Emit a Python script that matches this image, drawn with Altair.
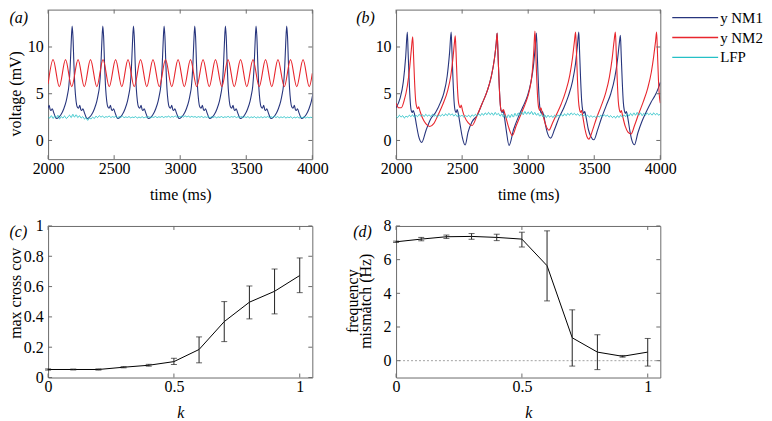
import altair as alt
import pandas as pd

FONT = "Liberation Serif"
C_NM1 = "#27357d"
C_NM2 = "#e8262d"
C_LFP = "#25c0c6"
FRAME = "#6b6b6b"
SERIES = ["y NM1", "y NM2", "LFP"]
COLORS = [C_NM1, C_NM2, C_LFP]

# ---------------- panel (a) ----------------
a_nm1_peaks = [1950, 2182, 2414, 2646, 2878, 3110, 3342, 3574, 3806, 4038]
a_nm1_shape_dt = [-100, -85, -63, -45, -35, -25, -15, -7, 0, 6, 14, 22, 30, 38,
                  48, 58, 66, 72, 82, 92, 104, 114]
a_nm1_shape_v = [2.5, 2.75, 3.4, 4.2, 4.9, 5.8, 7.8, 10.5, 12.25, 11.2, 8.0, 5.5,
                 4.2, 3.6, 3.45, 3.75, 3.3, 3.2, 3.4, 3.0, 2.55, 2.35]

a_nm2_t = [2000, 2038, 2085, 2132, 2179, 2227, 2274, 2321, 2369, 2416, 2463, 2511,
           2558, 2605, 2652, 2700, 2747, 2794, 2842, 2889, 2936, 2984, 3031, 3078,
           3125, 3173, 3220, 3267, 3315, 3362, 3409, 3457, 3504, 3551, 3598, 3646,
           3693, 3740, 3788, 3835, 3882, 3930, 3977, 4000]
a_nm2_v = [6.05, 8.65, 5.75, 8.65, 5.75, 8.65, 5.75, 8.65, 5.75, 8.65, 5.75, 8.65,
           5.75, 8.65, 5.75, 8.65, 5.75, 8.65, 5.75, 8.65, 5.75, 8.65, 5.75, 8.65,
           5.75, 8.65, 5.75, 8.65, 5.75, 8.65, 5.75, 8.65, 5.75, 8.65, 5.75, 8.65,
           5.75, 8.65, 5.75, 8.65, 5.75, 8.65, 5.75, 7.17]

lfp_dt = 12.5
a_lfp_v = [2.55, 2.4, 2.65, 2.35, 2.6, 2.45, 2.7, 2.3, 2.55, 2.4, 2.62, 2.35, 2.5, 2.7, 2.45, 2.8, 2.5, 2.75, 2.45, 2.65,
           2.4, 2.55, 2.3, 2.45, 2.15, 2.4, 2.3, 2.5, 2.35, 2.6, 2.45, 2.65, 2.5, 2.6, 2.45, 2.55, 2.5, 2.62, 2.45, 2.55,
           2.48, 2.58, 2.42, 2.55, 2.47, 2.6, 2.44, 2.52, 2.46, 2.56, 2.42, 2.5, 2.45, 2.55, 2.4, 2.5, 2.44, 2.54, 2.42, 2.5,
           2.45, 2.55, 2.43, 2.52, 2.47, 2.57, 2.44, 2.53, 2.48, 2.58, 2.45, 2.55, 2.5, 2.6, 2.47, 2.57, 2.5, 2.62, 2.48, 2.58,
           2.52, 2.6, 2.5, 2.63, 2.52, 2.6, 2.48, 2.58, 2.5, 2.56, 2.46, 2.55, 2.48, 2.57, 2.45, 2.54, 2.47, 2.56, 2.44, 2.53,
           2.46, 2.55, 2.43, 2.52, 2.47, 2.56, 2.44, 2.53, 2.48, 2.58, 2.46, 2.55, 2.49, 2.57, 2.45, 2.54, 2.47, 2.56, 2.44, 2.53,
           2.46, 2.55, 2.42, 2.52, 2.45, 2.55, 2.4, 2.52, 2.44, 2.54, 2.43, 2.53, 2.46, 2.56, 2.44, 2.54, 2.47, 2.57, 2.45, 2.55,
           2.42, 2.52, 2.45, 2.55, 2.4, 2.5, 2.44, 2.54, 2.38, 2.5, 2.42, 2.52, 2.4, 2.5, 2.44, 2.52, 2.4, 2.5, 2.42, 2.48, 2.44]

# ---------------- panel (b) ----------------
b_nm1_t = [2000, 2030, 2055, 2073, 2085, 2091, 2099, 2107, 2115, 2123, 2130, 2140, 2155, 2170, 2194,
           2227, 2262, 2299, 2337, 2362, 2387, 2405, 2417, 2423, 2431, 2439, 2447, 2455, 2462, 2472,
           2487, 2502, 2523, 2545, 2575, 2614, 2650, 2690, 2720, 2745, 2758, 2765, 2771, 2779, 2787,
           2795, 2803, 2810, 2820, 2835, 2855, 2890, 2925, 2960, 2995, 3020, 3040, 3053, 3062, 3068,
           3076, 3084, 3092, 3100, 3107, 3117, 3132, 3148, 3170, 3200, 3235, 3270, 3305, 3335, 3358,
           3373, 3383, 3389, 3397, 3405, 3413, 3421, 3428, 3438, 3455, 3475, 3497, 3525, 3555, 3590,
           3625, 3655, 3675, 3689, 3698, 3704, 3712, 3720, 3728, 3736, 3743, 3753, 3770, 3785, 3804,
           3830, 3860, 3895, 3930, 3960, 3985, 4000]
b_nm1_v = [3.5, 4.5, 6.3, 9.0, 11.6, 9.5, 6.5, 4.2, 3.2, 3.0, 3.2, 2.8, 1.6, 0.5, -0.2,
           1.1, 2.3, 3.0, 4.1, 5.1, 6.9, 9.4, 11.6, 9.5, 6.5, 4.2, 3.2, 3.0, 3.3, 2.8,
           1.5, 0.3, -0.48, 0.9, 2.0, 2.7, 3.9, 5.3, 6.8, 8.8, 10.4, 11.5, 9.5, 6.5, 4.2,
           3.2, 3.0, 3.2, 2.5, 1.0, -0.53, 1.2, 2.5, 3.6, 4.8, 6.2, 8.0, 10.0, 11.5, 9.5,
           6.5, 4.2, 3.2, 2.9, 3.1, 2.7, 1.6, 0.7, 0.25, 1.2, 2.5, 3.5, 4.8, 6.3, 8.2,
           10.2, 11.6, 9.5, 6.5, 4.2, 3.2, 2.9, 3.1, 2.5, 1.2, 0.4, 0.07, 1.1, 2.4, 3.7,
           5.0, 6.7, 8.5, 10.3, 11.25, 9.2, 6.3, 4.1, 3.2, 2.9, 3.1, 2.5, 1.0, 0.0, -0.46,
           0.8, 2.0, 3.1, 4.1, 4.8, 5.6, 6.2]

b_nm2_t = [2000, 2020, 2040, 2060, 2085, 2103, 2116, 2126, 2132, 2140, 2148, 2156, 2164, 2171, 2182,
           2200, 2225, 2255, 2285, 2320, 2355, 2390, 2415, 2432, 2442, 2448, 2454, 2462, 2470, 2478,
           2486, 2493, 2503, 2520, 2545, 2575, 2614, 2650, 2690, 2720, 2745, 2758, 2765, 2771, 2779,
           2787, 2795, 2803, 2812, 2825, 2850, 2880, 2910, 2945, 2980, 3010, 3030, 3042, 3051, 3057,
           3065, 3073, 3081, 3089, 3096, 3106, 3125, 3140, 3157, 3185, 3215, 3250, 3285, 3315, 3335,
           3350, 3359, 3365, 3373, 3381, 3389, 3397, 3404, 3414, 3430, 3445, 3459, 3485, 3515, 3550,
           3585, 3615, 3635, 3650, 3660, 3666, 3674, 3682, 3690, 3698, 3705, 3715, 3735, 3755, 3779,
           3805, 3835, 3870, 3905, 3932, 3950, 3964, 3972, 3978, 3986, 3994, 4000]
b_nm2_v = [4.0, 3.5, 3.5, 4.2, 5.8, 7.8, 9.8, 11.1, 9.2, 6.3, 4.3, 3.6, 3.4, 3.6, 3.1,
           2.4, 1.8, 1.5, 1.8, 2.8, 3.9, 5.3, 7.0, 9.0, 10.5, 11.2, 9.4, 6.4, 4.4, 3.7,
           3.5, 3.8, 3.2, 2.5, 1.9, 1.6, 2.7, 3.9, 5.3, 6.8, 8.8, 10.4, 11.5, 9.5, 6.5,
           4.2, 3.2, 3.1, 3.3, 2.8, 1.5, 0.53, 1.6, 2.8, 4.0, 5.4, 7.2, 9.5, 11.7, 9.6,
           6.5, 4.3, 3.4, 3.2, 3.5, 3.0, 2.0, 1.4, 1.1, 1.9, 2.8, 3.9, 5.3, 7.0, 8.8,
           10.6, 11.6, 9.6, 6.5, 4.2, 3.3, 3.0, 3.2, 2.5, 1.2, 0.4, 0.14, 1.0, 2.3, 3.6,
           5.0, 6.8, 8.7, 10.6, 11.6, 9.6, 6.5, 4.2, 3.3, 3.0, 3.2, 2.6, 1.5, 0.9, 0.7,
           1.6, 2.8, 4.1, 5.6, 7.3, 9.0, 10.6, 11.6, 9.6, 6.5, 4.6, 4.0]

b_lfp_v = [2.6, 2.45, 2.7, 2.5, 2.65, 2.4, 2.6, 2.5, 2.7, 2.55, 2.75, 2.5, 2.7, 2.55, 2.8, 2.6, 2.75, 2.55, 2.8, 2.6,
           2.75, 2.55, 2.8, 2.6, 2.7, 2.5, 2.75, 2.6, 2.8, 2.62, 2.85, 2.65, 2.9, 2.7, 2.85, 2.6, 2.8, 2.55, 2.75, 2.6,
           2.7, 2.5, 2.65, 2.55, 2.7, 2.5, 2.75, 2.6, 2.8, 2.6, 2.85, 2.65, 2.9, 2.7, 2.95, 2.75, 3.0, 2.75, 2.95, 2.7,
           3.0, 2.75, 2.9, 2.6, 2.85, 2.5, 2.7, 2.4, 2.75, 2.45, 2.8, 2.5, 2.9, 2.6, 2.95, 2.7, 3.05, 2.75, 3.1, 2.8,
           3.05, 2.8, 3.1, 2.75, 3.0, 2.7, 2.9, 2.6, 2.8, 2.5, 2.75, 2.45, 2.7, 2.5, 2.65, 2.45, 2.7, 2.5, 2.75, 2.55,
           2.8, 2.6, 2.85, 2.65, 2.9, 2.7, 2.95, 2.75, 2.9, 2.7, 2.85, 2.65, 2.8, 2.6, 2.75, 2.55, 2.7, 2.5, 2.65, 2.5,
           2.6, 2.45, 2.65, 2.5, 2.7, 2.55, 2.75, 2.6, 2.7, 2.5, 2.65, 2.45, 2.6, 2.4, 2.65, 2.45, 2.7, 2.5, 2.75, 2.55,
           2.85, 2.6, 2.9, 2.65, 2.95, 2.7, 3.0, 2.7, 2.95, 2.65, 2.9, 2.7, 2.95, 2.75, 2.9, 2.7, 2.95, 2.75, 2.9, 2.7, 2.85]

# ---------------- panels (c), (d) ----------------
k_vals = [0, 0.1, 0.2, 0.3, 0.4, 0.5, 0.6, 0.7, 0.8, 0.9, 1.0]
c_mean = [0.053, 0.053, 0.053, 0.068, 0.081, 0.105, 0.185, 0.369, 0.497, 0.569, 0.673]
c_lo = [0.049, 0.050, 0.049, 0.064, 0.075, 0.086, 0.097, 0.237, 0.387, 0.420, 0.560]
c_hi = [0.057, 0.056, 0.057, 0.072, 0.087, 0.127, 0.268, 0.501, 0.604, 0.716, 0.789]

d_mean = [7.06, 7.22, 7.36, 7.38, 7.32, 7.22, 5.64, 1.36, 0.51, 0.26, 0.51]
d_lo = [7.02, 7.12, 7.26, 7.21, 7.13, 6.75, 3.55, -0.32, -0.53, 0.21, -0.32]
d_hi = [7.10, 7.32, 7.46, 7.55, 7.51, 7.63, 7.71, 3.02, 1.54, 0.31, 1.32]

# ---------------- build tables ----------------
a_nm1_t, a_nm1_v = [], []
for p in a_nm1_peaks:
    for dt, v in zip(a_nm1_shape_dt, a_nm1_shape_v):
        a_nm1_t.append(p + dt)
        a_nm1_v.append(v)

lfp_t = [2000 + lfp_dt * i for i in range(len(a_lfp_v))]

df_a1 = pd.DataFrame({"t": a_nm1_t, "v": a_nm1_v, "s": "y NM1"})
df_a2 = pd.DataFrame({"t": a_nm2_t, "v": a_nm2_v, "s": "y NM2"})
df_a3 = pd.DataFrame({"t": lfp_t, "v": a_lfp_v, "s": "LFP"})
df_b1 = pd.DataFrame({"t": b_nm1_t, "v": b_nm1_v, "s": "y NM1"})
df_b2 = pd.DataFrame({"t": b_nm2_t, "v": b_nm2_v, "s": "y NM2"})
df_b3 = pd.DataFrame({"t": lfp_t, "v": b_lfp_v, "s": "LFP"})
df_c = pd.DataFrame({"k": k_vals, "m": c_mean, "lo": c_lo, "hi": c_hi})
df_d = pd.DataFrame({"k": k_vals, "m": d_mean, "lo": d_lo, "hi": d_hi})

FS = 16
AXC = dict(ticks=False, domain=False, grid=False, labelFont=FONT, labelFontSize=FS,
           labelColor="black", titleFont=FONT, titleFontSize=FS, titleFontWeight="normal",
           titleColor="black", labelFlush=False, labelOverlap=False)

COLOR_SCALE = alt.Scale(domain=SERIES, range=COLORS)


def panel(w, h, xdom, ydom, xt, yt, xaxis_kw, yaxis_kw, label, label_dx, label_dy,
          mark_fn, legend=False):
    xs = alt.Scale(domain=xdom, nice=False, zero=False)
    ys = alt.Scale(domain=ydom, nice=False, zero=False)
    xa = alt.Axis(values=xt, **AXC, **xaxis_kw)
    ya = alt.Axis(values=yt, **AXC, **yaxis_kw)

    def X(f):
        return alt.X(f, type="quantitative", scale=xs, axis=xa)

    def Y(f):
        return alt.Y(f, type="quantitative", scale=ys, axis=ya)

    layers = mark_fn(X, Y)
    ydf = pd.DataFrame({"v": yt})
    xdf = pd.DataFrame({"v": xt})
    tl = 4
    rk = dict(color=FRAME, strokeWidth=1)
    layers += [
        alt.Chart(ydf).mark_rule(**rk).encode(y=Y("v"), x=alt.value(0), x2=alt.value(tl)),
        alt.Chart(ydf).mark_rule(**rk).encode(y=Y("v"), x=alt.value(w - tl), x2=alt.value(w)),
        alt.Chart(xdf).mark_rule(**rk).encode(x=X("v"), y=alt.value(h - tl), y2=alt.value(h)),
        alt.Chart(xdf).mark_rule(**rk).encode(x=X("v"), y=alt.value(0), y2=alt.value(tl)),
        alt.Chart(pd.DataFrame({"s": [label]})).mark_text(
            font=FONT, fontSize=FS, fontStyle="italic", align="left", baseline="middle",
            color="black").encode(text="s:N", x=alt.value(label_dx), y=alt.value(label_dy)),
    ]
    if legend:
        for i, (name, col) in enumerate(zip(SERIES, COLORS)):
            ly = 8 + 20 * i
            ldf = pd.DataFrame({"s": [name]})
            layers.append(alt.Chart(ldf).mark_rule(color=col, strokeWidth=1.3).encode(
                x=alt.value(w + 12), x2=alt.value(w + 58), y=alt.value(ly)))
            layers.append(alt.Chart(ldf).mark_text(
                font=FONT, fontSize=15, align="left", baseline="middle", color="black")
                .encode(text="s:N", x=alt.value(w + 60), y=alt.value(ly)))
    return alt.layer(*layers).properties(width=w, height=h)


def ts_marks(dfs):
    def fn(X, Y):
        out = []
        for df, sw in dfs:
            out.append(
                alt.Chart(df).mark_line(interpolate="monotone", strokeWidth=sw, clip=True)
                .encode(x=X("t"), y=Y("v"),
                        color=alt.Color("s:N", scale=COLOR_SCALE, legend=None))
            )
        return out
    return fn


def err_marks(df, zero_line=False):
    def fn(X, Y):
        out = []
        if zero_line:
            out.append(alt.Chart(pd.DataFrame({"v": [0]})).mark_rule(
                color="#8a8a8a", strokeDash=[2, 2], strokeWidth=0.8).encode(y=Y("v")))
        out += [
            alt.Chart(df).mark_line(color="black", strokeWidth=1).encode(x=X("k"), y=Y("m")),
            alt.Chart(df).mark_rule(color="#222222", strokeWidth=1).encode(
                x=X("k"), y=Y("lo"), y2=alt.Y2("hi")),
            alt.Chart(df).mark_tick(orient="horizontal", size=6, thickness=1, color="#222222")
            .encode(x=X("k"), y=Y("lo")),
            alt.Chart(df).mark_tick(orient="horizontal", size=6, thickness=1, color="#222222")
            .encode(x=X("k"), y=Y("hi")),
        ]
        return out
    return fn


W = 265
H_TOP = 150
H_BOT = 152
time_ticks = [2000, 2500, 3000, 3500, 4000]
volt_ticks = [0, 5, 10]
x_time = dict(title="time (ms)", titleY=35, titleBaseline="middle", labelPadding=1, format="d")
x_k = dict(title="k", titleFontStyle="italic", titleY=35, titleBaseline="middle",
           labelPadding=1, format=".1~f")

pa = panel(W, H_TOP, [2000, 4000], [-2, 14], time_ticks, volt_ticks, x_time,
           dict(title="voltage (mV)", titleX=-32.5, titleY=84, titleBaseline="middle",
                labelPadding=5, format="d"),
           "(a)", -38.7, 8, ts_marks([(df_a1, 1.1), (df_a2, 1.1), (df_a3, 0.9)]))
pb = panel(W, H_TOP, [2000, 4000], [-2, 14], time_ticks, volt_ticks, x_time,
           dict(title=None, labelPadding=5, format="d"),
           "(b)", -40, 8, ts_marks([(df_b1, 1.1), (df_b2, 1.1), (df_b3, 0.9)]), legend=True)
pc = panel(W, H_BOT, [0, 1.05], [0, 1], [0, 0.5, 1], [0, 0.2, 0.4, 0.6, 0.8, 1], x_k,
           dict(title="max cross cov", titleX=-32.5, titleY=67, titleBaseline="middle",
                labelPadding=5, format=".1~f"),
           "(c)", -38.7, 6, err_marks(df_c))
pd_ = panel(W, H_BOT, [0, 1.05], [-1, 8], [0, 0.5, 1], [0, 2, 4, 6, 8], x_k,
            dict(title=["frequency", "mismatch (Hz)"], titleX=-44, titleY=75,
                 titleBaseline="middle", titleLineHeight=13, labelPadding=5, format="d"),
            "(d)", -43, 6, err_marks(df_d, zero_line=True))

chart = (
    alt.concat(pa, pb, pc, pd_, columns=2, bounds="flush",
               spacing={"row": 67, "column": 84})
    .properties(padding={"left": -1.8, "top": 0, "right": 0, "bottom": 0}, background="white")
    .configure_view(stroke=FRAME, strokeWidth=1)
)

chart.save("out.html", embed_options={"renderer": "svg", "actions": False})
